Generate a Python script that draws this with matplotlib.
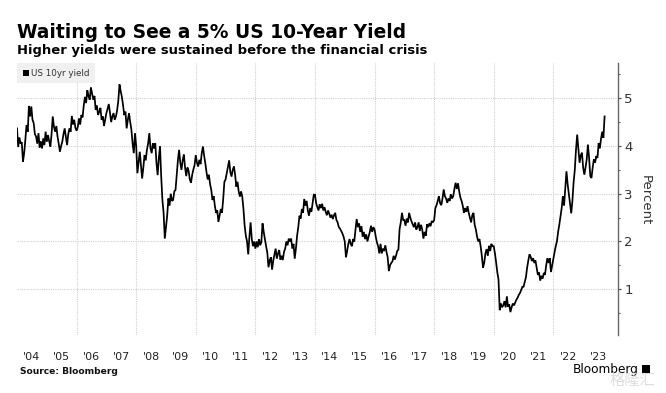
import numpy as np
import matplotlib
matplotlib.use('Agg')
import matplotlib.pyplot as plt

plt.rcParams['font.family'] = ['DejaVu Sans', 'Noto Sans CJK SC']

TITLE = 'Waiting to See a 5% US 10-Year Yield'
SUBTITLE = 'Higher yields were sustained before the financial crisis'
SERIES = 'US 10yr yield'

# percent, one value every 0.04 year
y2004 = [4.37,3.98,4.18,4.05,4.08,3.67,3.85,4.13,4.44,4.30,4.84,4.62,4.83,4.55,4.48,4.25,4.20,4.05,4.27,3.97,4.10,3.95,4.16,4.02,4.30]
y2005 = [4.09,4.23,4.10,3.99,4.25,4.62,4.40,4.30,4.42,4.20,4.05,3.88,4.00,4.09,4.25,4.37,4.20,4.02,4.25,4.37,4.30,4.63,4.45,4.55,4.38]
y2006 = [4.32,4.40,4.58,4.45,4.65,4.60,4.85,5.03,4.90,5.17,5.05,4.97,5.23,5.10,4.97,5.05,4.76,4.85,4.65,4.72,4.80,4.55,4.62,4.42,4.55]
y2007 = [4.69,4.78,4.88,4.70,4.50,4.62,4.69,4.55,4.62,4.75,4.95,5.29,5.15,5.03,4.85,4.65,4.72,4.37,4.55,4.69,4.50,4.34,4.05,3.85,4.27]
y2008 = [4.00,3.43,3.65,3.88,3.60,3.32,3.55,3.81,3.70,3.92,4.05,4.27,3.95,3.85,4.06,3.95,4.06,3.65,3.39,3.75,3.99,3.36,2.87,2.60,2.06]
y2009 = [2.30,2.54,2.90,2.75,3.00,2.85,2.87,3.05,3.08,3.40,3.70,3.92,3.65,3.50,3.70,3.82,3.55,3.37,3.55,3.48,3.30,3.23,3.40,3.51,3.60]
y2010 = [3.81,3.65,3.57,3.71,3.62,3.85,3.99,3.80,3.64,3.45,3.30,3.40,3.20,3.08,2.87,2.95,2.75,2.60,2.65,2.41,2.55,2.68,2.60,2.89,3.25]
y2011 = [3.30,3.43,3.55,3.70,3.45,3.36,3.50,3.57,3.40,3.15,3.25,3.05,2.94,3.05,2.94,2.68,2.33,2.12,2.00,1.73,2.10,2.40,2.05,1.90,2.00]
y2012 = [1.85,2.00,1.88,2.05,1.92,1.98,2.38,2.20,2.05,1.90,1.77,1.46,1.60,1.67,1.41,1.60,1.72,1.85,1.64,1.75,1.82,1.62,1.70,1.61,1.78]
y2013 = [1.85,2.00,1.92,2.06,2.00,2.06,1.85,1.95,1.64,1.85,2.12,2.30,2.54,2.48,2.68,2.60,2.89,2.75,2.85,2.65,2.54,2.70,2.62,2.80,2.98]
y2014 = [2.98,2.80,2.72,2.65,2.78,2.70,2.79,2.65,2.72,2.62,2.55,2.65,2.58,2.50,2.56,2.47,2.55,2.60,2.45,2.40,2.30,2.27,2.22,2.17,2.10]
y2015 = [2.00,1.67,1.80,1.95,2.05,1.95,1.90,2.05,2.00,2.25,2.47,2.30,2.38,2.20,2.32,2.10,2.20,2.05,2.15,2.00,2.10,2.20,2.33,2.20,2.30]
y2016 = [2.25,2.10,1.98,1.90,1.75,1.95,1.75,1.85,1.80,1.92,1.78,1.67,1.38,1.50,1.55,1.58,1.70,1.62,1.70,1.80,1.83,2.26,2.40,2.60,2.45]
y2017 = [2.45,2.33,2.48,2.40,2.60,2.50,2.42,2.36,2.30,2.40,2.25,2.30,2.40,2.22,2.35,2.25,2.06,2.20,2.12,2.36,2.30,2.38,2.32,2.43,2.40]
y2018 = [2.45,2.70,2.76,2.85,2.95,2.80,2.76,2.90,3.09,2.95,2.90,2.81,2.90,2.85,2.99,2.90,2.95,3.10,3.23,3.10,3.22,3.05,2.92,2.85,2.75]
y2019 = [2.60,2.70,2.62,2.74,2.60,2.50,2.40,2.55,2.60,2.35,2.25,2.10,2.00,2.05,1.90,1.70,1.45,1.55,1.75,1.84,1.70,1.91,1.80,1.95,1.90]
y2020 = [1.90,1.75,1.56,1.35,1.20,0.56,0.70,0.62,0.66,0.75,0.62,0.85,0.63,0.68,0.52,0.62,0.70,0.66,0.72,0.78,0.82,0.88,0.92,0.98,1.05]
y2021 = [1.05,1.15,1.25,1.45,1.60,1.73,1.68,1.59,1.65,1.55,1.60,1.45,1.30,1.35,1.18,1.28,1.22,1.34,1.30,1.50,1.65,1.55,1.65,1.36,1.50]
y2022 = [1.65,1.77,1.90,2.00,2.20,2.35,2.53,2.70,2.95,2.75,3.10,3.47,3.20,3.00,2.80,2.59,2.85,3.24,3.50,3.92,4.24,3.95,3.65,3.80,3.86]
y2023 = [3.55,3.40,3.55,3.72,4.03,3.75,3.37,3.33,3.55,3.72,3.65,3.79,3.75,4.06,3.95,4.15,4.30,4.17,4.62]

by_year = [y2004,y2005,y2006,y2007,y2008,y2009,y2010,y2011,y2012,y2013,y2014,y2015,y2016,y2017,y2018,y2019,y2020,y2021,y2022,y2023]
yields = np.concatenate(by_year)
dates = 2004 + 0.04 * np.arange(len(yields))

year_labels = ["'%02d" % (y % 100) for y in range(4, 24)]
label_pos = [2004.5 + i for i in range(20)]
grid_years = list(range(2006, 2024, 2))
y_ticks = [1, 2, 3, 4, 5]
y_minor = [0.5, 1.5, 2.5, 3.5, 4.5, 5.5]

W, H = 666, 393
fig = plt.figure(figsize=(W / 100, H / 100), dpi=100)
ax = fig.add_axes([17 / W, 1 - 335 / H, 601 / W, 272 / H])

ax.plot(dates, yields, color='black', lw=1.25, solid_joinstyle='miter', zorder=3)

ax.set_xlim(2004, 2024.17)
ax.set_ylim(0.04, 5.74)

for s in ['top', 'left', 'bottom']:
    ax.spines[s].set_visible(False)
ax.spines['right'].set_color('#666666')
ax.spines['right'].set_linewidth(1.0)

ax.yaxis.tick_right()
ax.set_yticks(y_ticks)
ax.set_yticks(y_minor, minor=True)
ax.tick_params(axis='y', which='major', length=2.5, width=0.9, color='#555555', labelsize=9.5, labelcolor='#333333', pad=2)
ax.tick_params(axis='y', which='minor', length=1.5, width=0.8, color='#555555')
ax.grid(axis='y', which='major', color='#d0d0d0', lw=0.8, ls=(0, (1, 1)))

ax.set_xticks(label_pos)
ax.set_xticklabels(year_labels)
ax.set_xticks(grid_years, minor=True)
ax.tick_params(axis='x', which='major', length=0, labelsize=8, labelcolor='#222222', pad=12)
ax.tick_params(axis='x', which='minor', length=0)
ax.grid(axis='x', which='minor', color='#d0d0d0', lw=0.8, ls=(0, (1, 1)))
ax.set_axisbelow(True)

fig.text(645 / W, 1 - 200 / H, 'Percent', rotation=270, ha='center', va='center', fontsize=9.5, color='#333333')

fig.text(17 / W, 1 - 32 / H, TITLE, fontsize=13.4, fontweight='bold', ha='left', va='center', color='black')
fig.text(17 / W, 1 - 50.5 / H, SUBTITLE, fontsize=9.45, fontweight='bold', ha='left', va='center', color='black')

# legend box
fig.patches.append(plt.Rectangle((17 / W, 1 - 83 / H), 78 / W, 20 / H, transform=fig.transFigure, fc='#f0f0f0', ec='none', zorder=4))
fig.patches.append(plt.Rectangle((23 / W, 1 - 76 / H), 6 / W, 6 / H, transform=fig.transFigure, fc='black', ec='none', zorder=5))
fig.text(31 / W, 1 - 73.5 / H, SERIES, fontsize=6.3, ha='left', va='center', color='#333333', zorder=5)

fig.text(20 / W, 1 - 371 / H, 'Source: Bloomberg', fontsize=6.6, fontweight='bold', ha='left', va='center', color='#111111')
fig.text(573 / W, 1 - 369 / H, 'Bloomberg', fontsize=8.7, ha='left', va='center', color='black')
fig.patches.append(plt.Rectangle((642 / W, 1 - 373 / H), 8 / W, 8 / H, transform=fig.transFigure, fc='black', ec='none', zorder=5))
fig.text(632 / W, 1 - 380 / H, '格隆汇', fontsize=11, ha='center', va='center', color='#d8d8d8', alpha=0.85, zorder=6)

fig.savefig('out.png', dpi=100)
